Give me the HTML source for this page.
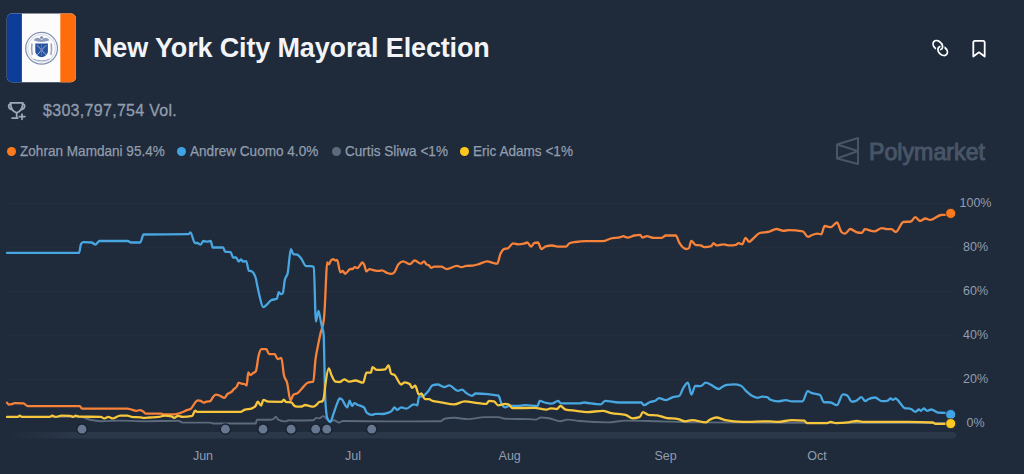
<!DOCTYPE html>
<html><head><meta charset="utf-8">
<style>
html,body{margin:0;padding:0;}
body{width:1024px;height:474px;background:#1f2a3a;position:relative;overflow:hidden;font-family:"Liberation Sans",sans-serif;}
.abs{position:absolute;}
.title{position:absolute;left:93px;top:32.3px;font-size:27px;font-weight:bold;color:#f2f4f7;white-space:nowrap;line-height:32px;letter-spacing:-0.15px;}
.vol{position:absolute;left:43px;top:102px;letter-spacing:0.3px;-webkit-text-stroke:0.3px #919dae;font-size:16px;color:#919dae;line-height:18px;white-space:nowrap;}
.leg{position:absolute;top:142.5px;-webkit-text-stroke:0.25px #919dae;font-size:14.5px;transform:scaleX(0.936);transform-origin:0 0;color:#919dae;line-height:16px;white-space:nowrap;}
.ld{position:absolute;top:147px;width:9px;height:9px;border-radius:50%;}
.yl{position:absolute;left:945px;margin-top:-1px;width:61px;text-align:center;font-size:12.5px;color:#919dae;line-height:16px;}
.xl{position:absolute;top:448px;width:60px;text-align:center;font-size:12.5px;color:#919dae;line-height:16px;}
.pm{position:absolute;left:869px;top:138.5px;font-size:23.2px;-webkit-text-stroke:1px #475567;color:#475567;line-height:26px;white-space:nowrap;}
</style></head><body>
<svg class="abs" style="left:0;top:0" width="1024" height="474" viewBox="0 0 1024 474">
<defs>
<clipPath id="fc"><rect x="6.8" y="13.6" width="69.1" height="68.6" rx="5"/></clipPath>
<linearGradient id="bandg" x1="0" x2="1" y1="0" y2="0">
<stop offset="0" stop-color="#2b3849" stop-opacity="0"/>
<stop offset="0.07" stop-color="#2b3849" stop-opacity="1"/>
<stop offset="1" stop-color="#2b3849" stop-opacity="1"/>
</linearGradient>
</defs>
<g clip-path="url(#fc)">
<rect x="6" y="13" width="71" height="70" fill="#fcfcfd"/>
<rect x="6" y="13" width="15.9" height="70" fill="#0c3d98"/>
<rect x="60.3" y="13" width="17" height="70" fill="#ff6c0c"/>
</g>
<circle cx="41.6" cy="48.3" r="15.9" fill="none" stroke="#8290b0" stroke-width="1.2"/>
<circle cx="41.6" cy="48.3" r="13.8" fill="none" stroke="#b4bdd2" stroke-width="0.6"/>
<path d="M33.6 40.2 Q36 36.2 40 38.6 L41.6 40 L43.2 38.6 Q47.2 36.2 49.6 40.2 Q46 41.6 41.6 42 Q37.2 41.6 33.6 40.2 Z" fill="#8e9bba"/>
<ellipse cx="41.6" cy="37.6" rx="1.6" ry="1.3" fill="#7d8cae"/>
<path d="M35.3 43.4 L47.9 43.4 L47.9 51.2 Q47.9 55.8 41.6 57.3 Q35.3 55.8 35.3 51.2 Z" fill="#28529e"/>
<path d="M37 45.2 L46.2 55 M46.2 45.2 L37 55" stroke="#9fb4db" stroke-width="1"/>
<path d="M41.6 44.5 L41.6 56" stroke="#5f84c4" stroke-width="0.8"/>
<path d="M32 43.5 Q31 49 32.3 55 M51.2 43.5 Q52.2 49 50.9 55" fill="none" stroke="#9aa6c0" stroke-width="1.6"/>
<path d="M33.5 59.2 Q41.6 62.4 49.7 59.2" fill="none" stroke="#9aa6c0" stroke-width="1"/>
<g fill="none" stroke-width="1.8">
<ellipse cx="937.8" cy="45.2" rx="5.3" ry="3.9" transform="rotate(42 937.8 45.2)" stroke="#fff"/>
<ellipse cx="942.7" cy="50.9" rx="5.3" ry="3.9" transform="rotate(42 942.7 50.9)" stroke="#fff"/>
<path d="M941.91 44.23 L942.03 44.46 L942.13 44.70 L942.23 44.94 L942.31 45.18 L942.37 45.42 L942.43 45.66 L942.47 45.90 L942.50 46.13 L942.52 46.37 L942.52 46.60 L942.52 46.82 L942.49 47.04 L942.46 47.26 L942.41 47.47 L942.35 47.68 L942.28 47.88 L942.20 48.07 L942.10 48.25 L941.99 48.42 L941.87 48.59" stroke="#1f2a3a" stroke-width="4"/>
<path d="M941.65 43.77 L941.79 43.99 L941.91 44.23 L942.03 44.46 L942.13 44.70 L942.23 44.94 L942.31 45.18 L942.37 45.42 L942.43 45.66 L942.47 45.90 L942.50 46.13 L942.52 46.37 L942.52 46.60 L942.52 46.82 L942.49 47.04 L942.46 47.26 L942.41 47.47 L942.35 47.68 L942.28 47.88 L942.20 48.07 L942.10 48.25 L941.99 48.42 L941.87 48.59 L941.74 48.75 L941.60 48.89" stroke="#fff"/>
<path d="M938.65 51.99 L938.53 51.75 L938.42 51.52 L938.32 51.28 L938.23 51.04 L938.16 50.80 L938.10 50.56 L938.05 50.32 L938.01 50.09 L937.99 49.85 L937.98 49.62 L937.98 49.39 L937.99 49.17 L938.02 48.95 L938.06 48.73 L938.12 48.52 L938.18 48.32 L938.26 48.13 L938.35 47.94 L938.45 47.76 L938.57 47.59" stroke="#1f2a3a" stroke-width="4"/>
<path d="M938.93 52.45 L938.78 52.22 L938.65 51.99 L938.53 51.75 L938.42 51.52 L938.32 51.28 L938.23 51.04 L938.16 50.80 L938.10 50.56 L938.05 50.32 L938.01 50.09 L937.99 49.85 L937.98 49.62 L937.98 49.39 L937.99 49.17 L938.02 48.95 L938.06 48.73 L938.12 48.52 L938.18 48.32 L938.26 48.13 L938.35 47.94 L938.45 47.76 L938.57 47.59 L938.69 47.43 L938.83 47.28" stroke="#fff"/>
</g>

<path d="M973.3 56.5 L973.3 42.5 Q973.3 40.8 975 40.8 L983 40.8 Q984.7 40.8 984.7 42.5 L984.7 56.5 L979 52.3 Z" fill="none" stroke="#ffffff" stroke-width="1.8" stroke-linejoin="round"/>
<g fill="none" stroke="#9ea9ba" stroke-width="1.7" stroke-linecap="round" stroke-linejoin="round">
<path d="M10.4 102.9 L22.9 102.9 Q22.4 111.4 16.65 112.8 Q10.9 111.4 10.4 102.9 Z"/>
<path d="M10.6 104.2 Q8.4 104.3 8.7 106.6 Q9 109 12.2 109.6"/>
<path d="M22.7 104.2 Q24.9 104.3 24.6 106.6 Q24.3 109 21.1 109.6"/>
<path d="M16.65 112.8 L16.65 117.8 M12 118.1 L17.8 118.1"/>
<path d="M22 114 L22 119.3 M19.3 116.6 L24.9 116.6"/>
</g>
<g fill="none" stroke="#475567" stroke-width="2" stroke-linejoin="round">
<path d="M858 138 L837 144.5 L837 158.5 L858 164 Z"/>
<path d="M837 144.5 L858 151 L837 158.5"/>
</g>
<line x1="8" y1="203.5" x2="952" y2="203.5" stroke="#293545" stroke-width="1" stroke-dasharray="1.5 2.5"/>
<line x1="8" y1="247.5" x2="952" y2="247.5" stroke="#293545" stroke-width="1" stroke-dasharray="1.5 2.5"/>
<line x1="8" y1="291.5" x2="952" y2="291.5" stroke="#293545" stroke-width="1" stroke-dasharray="1.5 2.5"/>
<line x1="8" y1="335.5" x2="952" y2="335.5" stroke="#293545" stroke-width="1" stroke-dasharray="1.5 2.5"/>
<line x1="8" y1="379.5" x2="952" y2="379.5" stroke="#293545" stroke-width="1" stroke-dasharray="1.5 2.5"/>

<rect x="8" y="432" width="948" height="6.5" rx="3.2" fill="url(#bandg)"/>
<g fill="none" stroke-width="2.3" stroke-linejoin="round" stroke-linecap="round">
<path d="M7.00 416.90 C31.33 416.90 55.67 416.90 80.00 416.90 C83.33 416.90 86.67 419.09 90.00 419.80 C93.67 420.58 97.33 421.20 101.00 421.20 C107.33 421.20 113.67 420.60 120.00 420.60 C126.87 420.60 133.73 421.20 140.60 421.20 C153.07 421.20 165.53 420.70 178.00 420.70 C179.57 420.70 181.13 422.60 182.70 422.60 C191.87 422.60 201.03 422.60 210.20 422.60 C211.47 422.60 212.73 423.50 214.00 423.50 C227.93 423.50 241.87 423.50 255.80 423.50 C256.13 423.50 256.47 419.70 256.80 419.70 C261.20 419.70 265.60 419.80 270.00 419.80 C271.17 419.80 272.33 419.53 273.50 419.00 C274.30 418.63 275.10 416.70 275.90 416.70 C276.67 416.70 277.43 419.21 278.20 419.60 C280.53 420.80 282.87 421.40 285.20 421.40 C286.40 421.40 287.60 420.20 288.80 420.20 C290.33 420.20 291.87 420.50 293.40 420.50 C300.07 420.50 306.73 420.40 313.40 420.20 C314.37 420.17 315.33 417.90 316.30 417.90 C317.27 417.90 318.23 418.40 319.20 418.40 C320.57 418.40 321.93 416.10 323.30 416.10 C324.30 416.10 325.30 417.59 326.30 418.40 C327.47 419.34 328.63 421.40 329.80 421.40 C331.17 421.40 332.53 420.20 333.90 420.20 C335.63 420.20 337.37 422.50 339.10 422.50 C340.30 422.50 341.50 421.00 342.70 421.00 C358.47 421.00 374.23 421.40 390.00 421.40 C406.97 421.40 423.93 421.33 440.90 421.20 C442.03 421.19 443.17 419.02 444.30 418.80 C447.67 418.13 451.03 417.80 454.40 417.80 C458.90 417.80 463.40 419.10 467.90 419.10 C473.53 419.10 479.17 417.10 484.80 417.10 C489.30 417.10 493.80 417.10 498.30 417.10 C500.53 417.10 502.77 418.75 505.00 418.80 C513.33 419.00 521.67 418.90 530.00 419.10 C531.93 419.15 533.87 419.60 535.80 419.60 C537.57 419.60 539.33 417.50 541.10 417.50 C543.73 417.50 546.37 417.86 549.00 418.30 C552.80 418.94 556.60 421.30 560.40 421.30 C562.77 421.30 565.13 419.60 567.50 419.60 C571.60 419.60 575.70 420.61 579.80 421.00 C589.17 421.88 598.53 422.40 607.90 422.40 C613.77 422.40 619.63 420.60 625.50 420.60 C636.03 420.60 646.57 421.03 657.10 421.30 C664.13 421.48 671.17 421.72 678.20 421.90 C685.47 422.09 692.73 422.34 700.00 422.40 C733.33 422.67 766.67 422.71 800.00 422.80 C850.23 422.93 900.47 422.97 950.70 423.00" stroke="#5b6a7c" stroke-width="1.9"/>
<path d="M7.00 402.70 C7.60 403.65 8.20 404.60 8.80 404.60 C9.77 404.60 10.73 404.45 11.70 404.20 C12.67 403.95 13.63 403.10 14.60 403.10 C17.53 403.10 20.47 403.20 23.40 403.40 C24.87 403.50 26.33 406.10 27.80 406.10 C45.13 406.10 62.47 406.10 79.80 406.10 C80.53 406.10 81.27 408.60 82.00 408.60 C97.13 408.60 112.27 408.60 127.40 408.60 C128.87 408.60 130.33 409.23 131.80 409.60 C133.27 409.97 134.73 410.80 136.20 410.80 C137.47 410.80 138.73 410.20 140.00 410.20 C140.93 410.20 141.87 410.64 142.80 411.20 C143.77 411.79 144.73 413.70 145.70 413.70 C150.77 413.70 155.83 413.70 160.90 413.70 C162.17 413.70 163.43 414.40 164.70 414.40 C167.87 414.40 171.03 414.40 174.20 414.40 C176.10 414.40 178.00 413.72 179.90 413.10 C181.47 412.59 183.03 411.88 184.60 411.20 C185.57 410.78 186.53 410.29 187.50 409.90 C188.63 409.44 189.77 409.50 190.90 408.70 C192.30 407.71 193.70 404.19 195.10 402.70 C196.03 401.71 196.97 400.40 197.90 400.40 C198.87 400.40 199.83 400.53 200.80 400.80 C201.73 401.06 202.67 402.70 203.60 402.70 C204.57 402.70 205.53 401.96 206.50 401.70 C207.73 401.37 208.97 401.50 210.20 401.10 C211.17 400.79 212.13 398.08 213.10 397.00 C214.03 395.96 214.97 394.70 215.90 394.70 C217.17 394.70 218.43 395.16 219.70 395.60 C221.30 396.15 222.90 397.90 224.50 397.90 C225.43 397.90 226.37 395.03 227.30 394.10 C228.57 392.84 229.83 393.27 231.10 392.20 C232.07 391.39 233.03 389.96 234.00 389.00 C234.93 388.07 235.87 387.95 236.80 386.50 C237.43 385.52 238.07 382.70 238.70 382.70 C239.67 382.70 240.63 383.49 241.60 383.70 C242.53 383.90 243.47 383.80 244.40 384.00 C245.17 384.16 245.93 385.60 246.70 385.60 C247.20 385.60 247.70 372.30 248.20 372.30 C248.97 372.30 249.73 375.10 250.50 375.10 C251.33 375.10 252.17 373.80 253.00 373.20 C253.93 372.53 254.87 372.57 255.80 371.30 C256.77 369.99 257.73 358.91 258.70 355.20 C259.63 351.62 260.57 349.10 261.50 349.10 C263.10 349.10 264.70 349.10 266.30 349.10 C267.23 349.10 268.17 354.20 269.10 354.20 C271.00 354.20 272.90 354.20 274.80 354.20 C275.73 354.20 276.67 359.00 277.60 359.00 C278.87 359.00 280.13 358.00 281.40 358.00 C282.23 358.00 283.07 371.14 283.90 375.10 C284.97 380.17 286.03 378.69 287.10 382.70 C288.23 386.96 289.37 400.50 290.50 400.50 C291.43 400.50 292.37 395.66 293.30 394.90 C294.77 393.70 296.23 394.19 297.70 393.10 C299.20 391.98 300.70 389.77 302.20 388.20 C304.03 386.28 305.87 383.42 307.70 382.70 C309.57 381.97 311.43 382.33 313.30 381.60 C314.03 381.31 314.77 365.27 315.50 359.40 C316.37 352.46 317.23 349.47 318.10 345.00 C318.93 340.70 319.77 336.71 320.60 333.00 C321.67 328.25 322.73 328.73 323.80 320.20 C324.17 317.27 324.53 311.76 324.90 305.00 C325.20 299.47 325.50 291.07 325.80 285.00 C326.23 276.23 326.67 262.40 327.10 262.40 C327.73 262.40 328.37 264.30 329.00 264.30 C329.63 264.30 330.27 261.24 330.90 260.50 C331.70 259.57 332.50 259.10 333.30 259.10 C333.93 259.10 334.57 260.50 335.20 260.50 C335.83 260.50 336.47 259.90 337.10 259.90 C338.20 259.90 339.30 272.40 340.40 272.40 C341.20 272.40 342.00 270.90 342.80 270.90 C343.57 270.90 344.33 273.80 345.10 273.80 C346.87 273.80 348.63 269.00 350.40 269.00 C351.17 269.00 351.93 269.00 352.70 269.00 C353.33 269.00 353.97 267.10 354.60 267.10 C355.57 267.10 356.53 268.10 357.50 268.10 C358.33 268.10 359.17 266.17 360.00 265.20 C360.77 264.31 361.53 262.50 362.30 262.50 C363.00 262.50 363.70 263.57 364.40 265.20 C365.03 266.67 365.67 271.40 366.30 271.40 C367.33 271.40 368.37 269.10 369.40 269.10 C370.97 269.10 372.53 270.00 374.10 270.30 C375.67 270.60 377.23 270.90 378.80 270.90 C379.83 270.90 380.87 270.30 381.90 270.30 C383.70 270.30 385.50 272.41 387.30 273.00 C388.63 273.44 389.97 273.80 391.30 273.80 C392.33 273.80 393.37 273.27 394.40 272.20 C395.70 270.86 397.00 266.11 398.30 264.40 C399.87 262.33 401.43 261.30 403.00 261.30 C405.33 261.30 407.67 264.10 410.00 264.10 C411.57 264.10 413.13 260.50 414.70 260.50 C416.77 260.50 418.83 263.60 420.90 263.60 C421.97 263.60 423.03 261.30 424.10 261.30 C424.87 261.30 425.63 263.89 426.40 264.40 C427.20 264.93 428.00 264.67 428.80 265.20 C429.57 265.71 430.33 267.80 431.10 267.80 C432.13 267.80 433.17 266.70 434.20 266.70 C436.57 266.70 438.93 266.70 441.30 266.70 C443.10 266.70 444.90 269.10 446.70 269.10 C450.10 269.10 453.50 265.90 456.90 265.90 C458.47 265.90 460.03 267.20 461.60 267.20 C463.17 267.20 464.73 266.05 466.30 265.90 C468.37 265.70 470.43 265.80 472.50 265.60 C474.60 265.40 476.70 264.68 478.80 264.10 C481.63 263.32 484.47 261.30 487.30 261.30 C489.13 261.30 490.97 262.39 492.80 262.80 C494.27 263.13 495.73 263.60 497.20 263.60 C498.33 263.60 499.47 255.84 500.60 253.40 C501.90 250.60 503.20 249.13 504.50 248.80 C505.57 248.53 506.63 248.67 507.70 248.40 C509.50 247.95 511.30 243.30 513.10 243.30 C514.90 243.30 516.70 244.30 518.50 244.30 C520.27 244.30 522.03 244.10 523.80 243.70 C524.97 243.44 526.13 242.50 527.30 242.50 C528.60 242.50 529.90 246.70 531.20 246.70 C532.23 246.70 533.27 243.13 534.30 242.90 C535.50 242.63 536.70 242.50 537.90 242.50 C539.07 242.50 540.23 249.00 541.40 249.00 C542.87 249.00 544.33 246.83 545.80 246.40 C547.83 245.80 549.87 245.50 551.90 245.50 C554.23 245.50 556.57 246.70 558.90 246.70 C561.27 246.70 563.63 246.70 566.00 246.70 C567.17 246.70 568.33 243.66 569.50 243.20 C571.53 242.40 573.57 242.32 575.60 242.00 C578.83 241.49 582.07 241.10 585.30 241.10 C591.17 241.10 597.03 241.10 602.90 241.10 C605.53 241.10 608.17 239.14 610.80 238.50 C614.03 237.72 617.27 238.07 620.50 237.20 C621.37 236.97 622.23 236.20 623.10 236.20 C624.57 236.20 626.03 237.60 627.50 237.60 C629.83 237.60 632.17 235.95 634.50 235.50 C636.40 235.13 638.30 234.90 640.20 234.90 C640.93 234.90 641.67 237.60 642.40 237.60 C643.87 237.60 645.33 236.20 646.80 236.20 C649.17 236.20 651.53 237.90 653.90 237.90 C656.53 237.90 659.17 237.90 661.80 237.90 C663.13 237.90 664.47 235.50 665.80 235.50 C669.13 235.50 672.47 235.50 675.80 235.50 C677.00 235.50 678.20 240.92 679.40 242.90 C681.73 246.76 684.07 249.00 686.40 249.00 C687.27 249.00 688.13 248.70 689.00 248.10 C689.73 247.59 690.47 240.80 691.20 240.80 C692.63 240.80 694.07 244.48 695.50 244.80 C697.27 245.20 699.03 245.00 700.80 245.40 C701.97 245.66 703.13 247.10 704.30 247.10 C706.67 247.10 709.03 246.77 711.40 246.10 C712.10 245.90 712.80 243.10 713.50 243.10 C714.53 243.10 715.57 245.40 716.60 245.40 C718.97 245.40 721.33 244.30 723.70 244.30 C725.47 244.30 727.23 245.40 729.00 245.40 C731.33 245.40 733.67 245.20 736.00 244.80 C736.87 244.65 737.73 243.10 738.60 243.10 C739.77 243.10 740.93 244.30 742.10 244.30 C743.27 244.30 744.43 237.80 745.60 237.80 C746.80 237.80 748.00 241.80 749.20 241.80 C750.37 241.80 751.53 239.96 752.70 239.00 C755.03 237.09 757.37 233.67 759.70 233.00 C762.93 232.07 766.17 232.49 769.40 231.60 C771.73 230.96 774.07 229.00 776.40 229.00 C778.73 229.00 781.07 230.80 783.40 230.80 C785.17 230.80 786.93 230.20 788.70 230.20 C793.40 230.20 798.10 230.57 802.80 231.30 C804.53 231.57 806.27 236.90 808.00 236.90 C809.20 236.90 810.40 235.67 811.60 235.20 C813.63 234.41 815.67 233.70 817.70 233.70 C818.87 233.70 820.03 234.30 821.20 234.30 C822.37 234.30 823.53 226.00 824.70 226.00 C826.77 226.00 828.83 227.20 830.90 227.20 C832.93 227.20 834.97 222.50 837.00 222.50 C838.47 222.50 839.93 230.61 841.40 232.00 C842.60 233.13 843.80 233.70 845.00 233.70 C846.73 233.70 848.47 229.00 850.20 229.00 C852.57 229.00 854.93 232.20 857.30 232.50 C858.87 232.70 860.43 232.80 862.00 232.80 C862.90 232.80 863.80 229.20 864.70 229.20 C867.90 229.20 871.10 231.40 874.30 231.40 C876.83 231.40 879.37 228.10 881.90 228.10 C883.67 228.10 885.43 229.20 887.20 229.20 C888.63 229.20 890.07 229.20 891.50 229.20 C892.93 229.20 894.37 232.00 895.80 232.00 C898.30 232.00 900.80 222.33 903.30 222.00 C905.83 221.67 908.37 221.83 910.90 221.50 C912.33 221.31 913.77 217.20 915.20 217.20 C916.80 217.20 918.40 221.00 920.00 221.00 C921.80 221.00 923.60 218.50 925.40 218.50 C927.00 218.50 928.60 219.90 930.20 219.90 C933.77 219.90 937.33 215.33 940.90 215.00 C942.33 214.87 943.77 214.93 945.20 214.80 C947.00 214.63 948.80 214.02 950.60 213.40" stroke="#f7823a"/>
<path d="M7.00 252.90 C31.03 252.90 55.07 252.90 79.10 252.90 C79.73 252.90 80.37 244.88 81.00 244.00 C81.87 242.80 82.73 242.20 83.60 242.20 C86.33 242.20 89.07 242.30 91.80 242.50 C92.97 242.59 94.13 244.50 95.30 244.50 C96.73 244.50 98.17 241.00 99.60 241.00 C109.03 241.00 118.47 241.00 127.90 241.00 C128.90 241.00 129.90 242.50 130.90 242.50 C134.00 242.50 137.10 242.50 140.20 242.50 C141.33 242.50 142.47 234.52 143.60 234.50 C158.57 234.30 173.53 234.40 188.50 234.20 C189.13 234.19 189.77 232.50 190.40 232.50 C191.93 232.50 193.47 243.00 195.00 243.00 C195.80 243.00 196.60 243.00 197.40 243.00 C198.47 243.00 199.53 244.60 200.60 244.60 C201.53 244.60 202.47 241.00 203.40 241.00 C204.60 241.00 205.80 241.60 207.00 241.60 C208.23 241.60 209.47 241.00 210.70 241.00 C211.37 241.00 212.03 247.50 212.70 247.50 C216.17 247.50 219.63 247.50 223.10 247.50 C223.77 247.50 224.43 251.60 225.10 251.70 C226.97 251.97 228.83 251.83 230.70 252.10 C231.50 252.21 232.30 257.50 233.10 257.50 C234.10 257.50 235.10 257.50 236.10 257.50 C236.97 257.50 237.83 261.50 238.70 261.50 C239.50 261.50 240.30 259.50 241.10 259.50 C241.77 259.50 242.43 261.50 243.10 261.50 C244.13 261.50 245.17 261.10 246.20 261.10 C247.07 261.10 247.93 270.41 248.80 270.70 C249.60 270.97 250.40 270.83 251.20 271.10 C252.67 271.59 254.13 273.23 255.60 277.50 C256.13 279.05 256.67 282.68 257.20 285.20 C258.00 288.98 258.80 293.02 259.60 296.20 C260.80 300.97 262.00 307.20 263.20 307.20 C264.20 307.20 265.20 305.99 266.20 305.20 C267.87 303.88 269.53 301.03 271.20 300.20 C273.07 299.27 274.93 299.73 276.80 298.80 C277.47 298.47 278.13 292.20 278.80 292.20 C279.47 292.20 280.13 294.20 280.80 294.20 C281.47 294.20 282.13 293.87 282.80 293.20 C283.47 292.53 284.13 283.32 284.80 280.10 C285.77 275.43 286.73 277.77 287.70 273.10 C288.77 267.95 289.83 249.10 290.90 249.10 C291.70 249.10 292.50 253.86 293.30 254.10 C294.63 254.50 295.97 254.30 297.30 254.70 C298.50 255.06 299.70 256.68 300.90 258.10 C302.67 260.19 304.43 266.20 306.20 266.20 C307.77 266.20 309.33 266.20 310.90 266.20 C311.87 266.20 312.83 266.50 313.80 267.10 C314.50 267.53 315.20 321.50 315.90 321.50 C316.77 321.50 317.63 310.90 318.50 310.90 C319.20 310.90 319.90 316.92 320.60 320.20 C321.07 322.39 321.53 324.84 322.00 327.00 C322.53 329.47 323.07 329.33 323.60 334.00 C324.10 338.37 324.60 381.89 325.10 395.00 C325.50 405.49 325.90 408.69 326.30 412.60 C326.67 416.18 327.03 417.52 327.40 418.40 C328.40 420.80 329.40 422.00 330.40 422.00 C331.37 422.00 332.33 416.94 333.30 414.30 C334.47 411.11 335.63 407.19 336.80 404.40 C337.77 402.09 338.73 398.50 339.70 398.50 C340.30 398.50 340.90 398.75 341.50 399.10 C343.43 400.24 345.37 407.30 347.30 407.30 C348.10 407.30 348.90 400.60 349.70 400.60 C350.47 400.60 351.23 406.10 352.00 406.10 C352.80 406.10 353.60 403.20 354.40 403.20 C355.57 403.20 356.73 404.48 357.90 405.00 C359.47 405.70 361.03 405.87 362.60 406.70 C363.17 407.00 363.73 407.03 364.30 407.70 C365.10 408.64 365.90 411.91 366.70 412.60 C368.47 414.13 370.23 414.90 372.00 414.90 C373.17 414.90 374.33 413.80 375.50 413.80 C377.83 413.80 380.17 414.00 382.50 414.00 C383.97 414.00 385.43 413.69 386.90 413.20 C388.57 412.65 390.23 412.37 391.90 410.70 C392.77 409.83 393.63 407.30 394.50 407.30 C395.33 407.30 396.17 409.90 397.00 409.90 C398.40 409.90 399.80 407.30 401.20 407.30 C402.90 407.30 404.60 408.70 406.30 408.70 C408.83 408.70 411.37 404.30 413.90 404.30 C415.03 404.30 416.17 405.30 417.30 405.30 C417.83 405.30 418.37 397.56 418.90 397.20 C420.60 396.07 422.30 396.63 424.00 395.50 C425.40 394.57 426.80 392.98 428.20 391.30 C429.60 389.62 431.00 385.89 432.40 385.40 C434.10 384.80 435.80 384.50 437.50 384.50 C439.77 384.50 442.03 387.10 444.30 387.10 C445.97 387.10 447.63 385.40 449.30 385.40 C452.13 385.40 454.97 390.80 457.80 390.80 C459.20 390.80 460.60 389.60 462.00 389.60 C463.40 389.60 464.80 392.06 466.20 393.00 C468.17 394.32 470.13 395.80 472.10 395.80 C473.23 395.80 474.37 393.50 475.50 393.50 C479.70 393.50 483.90 393.73 488.10 394.20 C490.37 394.45 492.63 394.96 494.90 395.20 C496.03 395.32 497.17 395.30 498.30 395.50 C499.40 395.69 500.50 401.94 501.60 403.90 C502.73 405.92 503.87 407.30 505.00 407.30 C506.70 407.30 508.40 405.60 510.10 405.60 C512.33 405.60 514.57 406.00 516.80 406.00 C519.63 406.00 522.47 405.20 525.30 405.20 C529.40 405.20 533.50 406.00 537.60 406.00 C538.30 406.00 539.00 400.80 539.70 400.80 C541.33 400.80 542.97 402.05 544.60 402.50 C546.93 403.14 549.27 403.70 551.60 403.70 C553.83 403.70 556.07 400.80 558.30 400.80 C559.13 400.80 559.97 403.40 560.80 403.40 C567.13 403.40 573.47 403.40 579.80 403.40 C581.27 403.40 582.73 402.50 584.20 402.50 C586.23 402.50 588.27 403.15 590.30 403.40 C593.83 403.84 597.37 404.30 600.90 404.30 C602.37 404.30 603.83 400.80 605.30 400.80 C609.67 400.80 614.03 402.50 618.40 402.50 C626.03 402.50 633.67 402.50 641.30 402.50 C642.17 402.50 643.03 405.20 643.90 405.20 C645.97 405.20 648.03 402.75 650.10 402.00 C651.83 401.37 653.57 401.60 655.30 400.80 C656.50 400.25 657.70 398.10 658.90 398.10 C661.23 398.10 663.57 400.20 665.90 400.20 C668.23 400.20 670.57 397.91 672.90 397.20 C674.97 396.57 677.03 396.80 679.10 396.00 C680.57 395.43 682.03 389.82 683.50 387.60 C684.97 385.38 686.43 382.70 687.90 382.70 C689.07 382.70 690.23 394.60 691.40 394.60 C692.70 394.60 694.00 385.80 695.30 385.80 C697.03 385.80 698.77 386.20 700.50 386.20 C702.27 386.20 704.03 382.70 705.80 382.70 C707.57 382.70 709.33 384.09 711.10 384.90 C713.73 386.10 716.37 389.00 719.00 389.00 C720.17 389.00 721.33 387.34 722.50 386.70 C723.97 385.90 725.43 385.11 726.90 384.90 C729.27 384.57 731.63 384.40 734.00 384.40 C736.33 384.40 738.67 384.87 741.00 385.80 C742.73 386.49 744.47 389.50 746.20 391.10 C747.97 392.74 749.73 394.41 751.50 395.50 C753.57 396.78 755.63 397.80 757.70 397.80 C759.17 397.80 760.63 396.70 762.10 396.70 C763.83 396.70 765.57 396.87 767.30 397.20 C768.20 397.37 769.10 399.09 770.00 399.50 C772.63 400.70 775.27 401.30 777.90 401.30 C780.53 401.30 783.17 400.20 785.80 400.20 C787.87 400.20 789.93 401.30 792.00 401.30 C795.50 401.30 799.00 401.30 802.50 401.30 C804.27 401.30 806.03 391.10 807.80 391.10 C808.97 391.10 810.13 392.39 811.30 392.90 C814.23 394.18 817.17 393.60 820.10 395.00 C821.27 395.56 822.43 401.83 823.60 402.00 C825.93 402.33 828.27 402.17 830.60 402.50 C832.67 402.80 834.73 405.20 836.80 405.20 C838.83 405.20 840.87 394.30 842.90 394.30 C844.37 394.30 845.83 394.70 847.30 395.50 C848.77 396.30 850.23 401.60 851.70 401.60 C853.17 401.60 854.63 401.33 856.10 400.80 C857.87 400.16 859.63 397.20 861.40 397.20 C862.67 397.20 863.93 401.20 865.20 401.20 C866.20 401.20 867.20 399.69 868.20 399.20 C870.50 398.07 872.80 397.50 875.10 397.50 C877.37 397.50 879.63 401.20 881.90 401.20 C883.73 401.20 885.57 401.07 887.40 400.80 C888.53 400.64 889.67 398.50 890.80 398.50 C891.50 398.50 892.20 399.90 892.90 399.90 C893.80 399.90 894.70 398.50 895.60 398.50 C897.00 398.50 898.40 401.12 899.80 402.60 C901.40 404.29 903.00 407.73 904.60 408.10 C906.63 408.57 908.67 408.33 910.70 408.80 C912.30 409.17 913.90 411.80 915.50 411.80 C916.63 411.80 917.77 409.50 918.90 409.50 C919.60 409.50 920.30 410.80 921.00 410.80 C921.90 410.80 922.80 408.50 923.70 408.50 C924.87 408.50 926.03 410.80 927.20 410.80 C928.57 410.80 929.93 409.50 931.30 409.50 C933.57 409.50 935.83 412.40 938.10 412.60 C940.40 412.80 942.70 412.70 945.00 412.90 C946.90 413.07 948.80 413.78 950.70 414.50" stroke="#48a6e0"/>
<path d="M7.00 416.90 C10.53 416.90 14.07 416.90 17.60 416.90 C18.33 416.90 19.07 415.60 19.80 415.60 C20.53 415.60 21.27 416.90 22.00 416.90 C31.27 416.90 40.53 416.90 49.80 416.90 C50.53 416.90 51.27 415.60 52.00 415.60 C53.23 415.60 54.47 416.90 55.70 416.90 C57.63 416.90 59.57 415.60 61.50 415.60 C64.43 415.60 67.37 415.70 70.30 415.90 C71.27 415.97 72.23 416.90 73.20 416.90 C73.93 416.90 74.67 415.60 75.40 415.60 C76.63 415.60 77.87 416.57 79.10 416.60 C86.40 416.80 93.70 416.70 101.00 416.90 C102.00 416.93 103.00 418.40 104.00 418.40 C105.47 418.40 106.93 416.90 108.40 416.90 C109.87 416.90 111.33 418.40 112.80 418.40 C115.23 418.40 117.67 415.60 120.10 415.60 C122.53 415.60 124.97 415.60 127.40 415.60 C128.87 415.60 130.33 416.73 131.80 416.90 C134.73 417.23 137.67 417.09 140.60 417.40 C141.67 417.51 142.73 417.80 143.80 417.80 C145.70 417.80 147.60 417.61 149.50 417.50 C152.67 417.32 155.83 417.30 159.00 416.90 C160.90 416.66 162.80 415.60 164.70 415.60 C166.90 415.60 169.10 415.83 171.30 416.30 C172.27 416.51 173.23 417.80 174.20 417.80 C175.47 417.80 176.73 415.90 178.00 415.90 C179.57 415.90 181.13 416.90 182.70 416.90 C185.87 416.90 189.03 416.57 192.20 415.90 C193.17 415.70 194.13 410.60 195.10 410.60 C195.73 410.60 196.37 411.80 197.00 411.80 C211.53 411.80 226.07 411.80 240.60 411.80 C241.87 411.80 243.13 410.40 244.40 409.90 C246.93 408.90 249.47 409.40 252.00 408.40 C253.27 407.90 254.53 407.43 255.80 405.50 C256.43 404.53 257.07 401.70 257.70 401.70 C258.83 401.70 259.97 405.50 261.10 405.50 C261.87 405.50 262.63 399.80 263.40 399.80 C265.00 399.80 266.60 401.68 268.20 401.70 C272.70 401.77 277.20 401.80 281.70 401.80 C282.40 401.80 283.10 399.70 283.80 399.70 C284.47 399.70 285.13 401.62 285.80 401.80 C287.77 402.33 289.73 402.07 291.70 402.60 C292.47 402.81 293.23 404.89 294.00 405.50 C295.00 406.30 296.00 406.70 297.00 406.70 C298.53 406.70 300.07 406.63 301.60 406.50 C302.80 406.40 304.00 405.00 305.20 405.00 C306.73 405.00 308.27 405.80 309.80 406.10 C311.00 406.34 312.20 406.70 313.40 406.70 C314.57 406.70 315.73 405.44 316.90 404.40 C317.67 403.72 318.43 402.31 319.20 402.00 C320.20 401.60 321.20 401.80 322.20 401.40 C322.77 401.17 323.33 400.03 323.90 397.30 C324.43 394.73 324.97 387.65 325.50 383.80 C326.60 375.86 327.70 368.30 328.80 368.30 C329.67 368.30 330.53 372.99 331.40 374.90 C332.73 377.83 334.07 381.36 335.40 381.60 C336.90 381.87 338.40 382.00 339.90 382.00 C341.37 382.00 342.83 379.30 344.30 379.30 C345.77 379.30 347.23 381.60 348.70 381.60 C350.93 381.60 353.17 380.50 355.40 380.50 C357.97 380.50 360.53 382.70 363.10 382.70 C364.23 382.70 365.37 372.70 366.50 372.70 C367.97 372.70 369.43 372.70 370.90 372.70 C371.43 372.70 371.97 367.20 372.50 367.20 C373.93 367.20 375.37 369.90 376.80 369.90 C379.60 369.90 382.40 369.70 385.20 369.30 C386.33 369.14 387.47 365.50 388.60 365.50 C389.43 365.50 390.27 372.96 391.10 373.60 C392.23 374.47 393.37 374.07 394.50 374.90 C396.73 376.54 398.97 384.50 401.20 384.50 C402.33 384.50 403.47 382.30 404.60 382.30 C406.30 382.30 408.00 382.87 409.70 384.00 C410.53 384.56 411.37 387.90 412.20 387.90 C413.20 387.90 414.20 385.70 415.20 385.70 C416.43 385.70 417.67 394.70 418.90 394.70 C419.77 394.70 420.63 393.50 421.50 393.50 C422.63 393.50 423.77 399.20 424.90 399.20 C426.30 399.20 427.70 399.20 429.10 399.20 C430.20 399.20 431.30 400.54 432.40 400.90 C435.23 401.83 438.07 401.85 440.90 402.30 C445.40 403.01 449.90 404.30 454.40 404.30 C457.77 404.30 461.13 401.40 464.50 401.40 C469.00 401.40 473.50 402.62 478.00 403.10 C480.83 403.40 483.67 403.90 486.50 403.90 C487.33 403.90 488.17 400.90 489.00 400.90 C490.67 400.90 492.33 401.07 494.00 401.40 C495.43 401.69 496.87 405.30 498.30 405.30 C500.53 405.30 502.77 403.90 505.00 403.90 C506.13 403.90 507.27 404.03 508.40 404.30 C509.80 404.63 511.20 408.20 512.60 408.20 C519.77 408.20 526.93 407.80 534.10 407.80 C538.20 407.80 542.30 409.60 546.40 409.60 C547.87 409.60 549.33 408.30 550.80 408.30 C552.83 408.30 554.87 409.00 556.90 409.00 C558.07 409.00 559.23 406.00 560.40 406.00 C562.17 406.00 563.93 409.20 565.70 409.60 C569.20 410.40 572.70 410.37 576.20 410.80 C579.73 411.24 583.27 412.20 586.80 412.20 C592.07 412.20 597.33 410.80 602.60 410.80 C605.53 410.80 608.47 412.49 611.40 413.10 C616.10 414.07 620.80 413.67 625.50 414.80 C627.83 415.36 630.17 418.30 632.50 418.30 C634.83 418.30 637.17 417.90 639.50 417.10 C640.67 416.70 641.83 412.20 643.00 412.20 C644.77 412.20 646.53 414.56 648.30 414.80 C651.23 415.20 654.17 415.00 657.10 415.40 C660.03 415.80 662.97 417.19 665.90 417.80 C670.00 418.65 674.10 418.27 678.20 419.20 C680.53 419.73 682.87 421.30 685.20 421.30 C687.57 421.30 689.93 420.10 692.30 420.10 C696.80 420.10 701.30 422.40 705.80 422.40 C706.97 422.40 708.13 420.75 709.30 420.10 C711.67 418.77 714.03 417.50 716.40 417.50 C719.33 417.50 722.27 419.50 725.20 420.10 C731.03 421.30 736.87 421.90 742.70 421.90 C751.50 421.90 760.30 421.30 769.10 421.30 C772.03 421.30 774.97 421.90 777.90 421.90 C782.60 421.90 787.30 420.10 792.00 420.10 C796.10 420.10 800.20 420.27 804.30 420.60 C805.17 420.67 806.03 423.10 806.90 423.10 C813.63 423.10 820.37 423.10 827.10 423.10 C828.27 423.10 829.43 421.90 830.60 421.90 C832.37 421.90 834.13 423.10 835.90 423.10 C840.00 423.10 844.10 422.87 848.20 422.40 C851.13 422.07 854.07 421.00 857.00 421.00 C858.77 421.00 860.53 421.90 862.30 421.90 C877.53 421.90 892.77 421.80 908.00 421.80 C916.23 421.80 924.47 422.03 932.70 422.50 C933.60 422.55 934.50 423.90 935.40 423.90 C940.50 423.90 945.60 423.75 950.70 423.60" stroke="#f6c63c"/>
</g>
<circle cx="82" cy="429.2" r="5.9" fill="#1a2331"/><circle cx="82" cy="429.2" r="4.4" fill="#66788f"/>
<circle cx="225.4" cy="429.2" r="5.9" fill="#1a2331"/><circle cx="225.4" cy="429.2" r="4.4" fill="#66788f"/>
<circle cx="263" cy="429.2" r="5.9" fill="#1a2331"/><circle cx="263" cy="429.2" r="4.4" fill="#66788f"/>
<circle cx="291.1" cy="429.2" r="5.9" fill="#1a2331"/><circle cx="291.1" cy="429.2" r="4.4" fill="#66788f"/>
<circle cx="315.7" cy="429.2" r="5.9" fill="#1a2331"/><circle cx="315.7" cy="429.2" r="4.4" fill="#66788f"/>
<circle cx="326.8" cy="429.2" r="5.9" fill="#1a2331"/><circle cx="326.8" cy="429.2" r="4.4" fill="#66788f"/>
<circle cx="371.7" cy="429.2" r="5.9" fill="#1a2331"/><circle cx="371.7" cy="429.2" r="4.4" fill="#66788f"/>

<circle cx="950.7" cy="213.4" r="5" fill="#ff7a1c" stroke="#1f2a3a" stroke-width="0.8"/>
<circle cx="950.7" cy="414.5" r="5" fill="#3fa4e6" stroke="#1f2a3a" stroke-width="0.8"/>
<circle cx="950.7" cy="423.6" r="5" fill="#ffc81e" stroke="#1f2a3a" stroke-width="0.8"/>
</svg>
<div class="title">New York City Mayoral Election</div>
<div class="vol">$303,797,754 Vol.</div>
<div class="ld" style="left:6.5px;background:#ff7a1c"></div><div class="leg" style="left:19.5px">Zohran Mamdani 95.4%</div>
<div class="ld" style="left:176.5px;background:#3fa4e6"></div><div class="leg" style="left:189.5px">Andrew Cuomo 4.0%</div>
<div class="ld" style="left:332px;background:#5b6a7c"></div><div class="leg" style="left:345px">Curtis Sliwa &lt;1%</div>
<div class="ld" style="left:460px;background:#ffc81e"></div><div class="leg" style="left:473px">Eric Adams &lt;1%</div>
<div class="pm">Polymarket</div>
<div class="yl" style="top:195.5px">100%</div>
<div class="yl" style="top:239.5px">80%</div>
<div class="yl" style="top:283.5px">60%</div>
<div class="yl" style="top:327.5px">40%</div>
<div class="yl" style="top:371.5px">20%</div>
<div class="yl" style="top:415.5px">0%</div>

<div class="xl" style="left:173.0px">Jun</div>
<div class="xl" style="left:323.0px">Jul</div>
<div class="xl" style="left:479.7px">Aug</div>
<div class="xl" style="left:635.5px">Sep</div>
<div class="xl" style="left:787.0px">Oct</div>

</body></html>
